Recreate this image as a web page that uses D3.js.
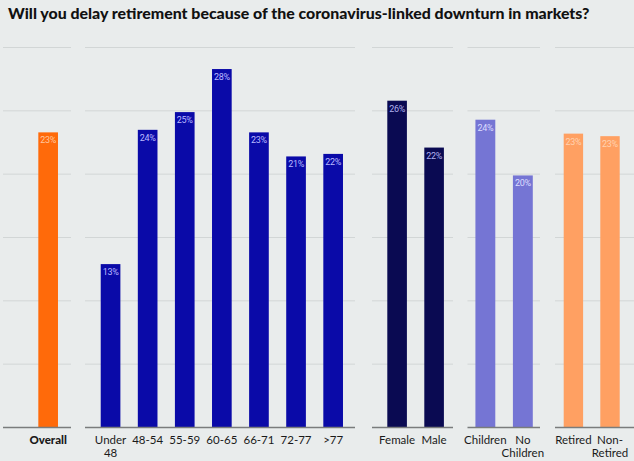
<!DOCTYPE html>
<html>
<head>
<meta charset="utf-8">
<script src="https://cdn.jsdelivr.net/npm/d3@7"></script>
<style>
  html, body { margin: 0; padding: 0; background: #e9ecec; }
  svg { display: block; }
</style>
</head>
<body>
<svg id="chart" width="634" height="461"></svg>
<script>
// ---- data ----
const titleText = "Will you delay retirement because of the coronavirus-linked downturn in markets?";
const overallCats = ["Overall"];
const overallVals = [23.3];
const ageCats = ["Under\n48", "48-54", "55-59", "60-65", "66-71", "72-77", ">77"];
const ageVals = [12.9, 23.5, 24.9, 28.3, 23.3, 21.4, 21.6];
const genderCats = ["Female", "Male"];
const genderVals = [25.8, 22.1];
const childCats = ["Children", "No\nChildren"];
const childVals = [24.3, 19.9];
const retCats = ["Retired", "Non-\nRetired"];
const retVals = [23.2, 23.0];
const yTicks = [0, 5, 10, 15, 20, 25, 30];

// ---- layout ----
const W = 634, H = 461;
const baseY = 427.5, topY = 47.5;
const groups = [
  { cats: overallCats, vals: overallVals, color: "#ff6a0a", labelColor: "#ffc79f", bold: true,
    band: [29.6, 66.7], seg: [3, 71] },
  { cats: ageCats, vals: ageVals, color: "#0a0aa8", labelColor: "#b9b9ff",
    band: [92, 351.7], seg: [85, 355] },
  { cats: genderCats, vals: genderVals, color: "#0a0a52", labelColor: "#b0b0ee",
    band: [378.6, 452.6], seg: [372, 453] },
  { cats: childCats, vals: childVals, color: "#7575d4", labelColor: "#dcdcff",
    band: [466.6, 541.6], seg: [467.5, 540] },
  { cats: retCats, vals: retVals, color: "#ffa062", labelColor: "#ffd2b0",
    band: [555.1, 628.3], seg: [555, 634] }
];

const svg = d3.select("#chart");
svg.append("rect").attr("width", W).attr("height", H).attr("fill", "#e9ecec");

svg.append("text")
  .attr("x", 8).attr("y", 18.5)
  .attr("font-family", "Lato, sans-serif")
  .attr("font-weight", 900)
  .attr("font-size", 15.9)
  .attr("fill", "#111")
  .text(titleText);

const y = d3.scaleLinear().domain([0, 30]).range([baseY, topY]);

groups.forEach(g => {
  const x = d3.scaleBand().domain(g.cats).range(g.band).paddingInner(0.47).paddingOuter(0.235);
  const gg = svg.append("g");

  // gridlines
  gg.selectAll("line.grid").data(yTicks.filter(t => t > 0)).join("line")
    .attr("class", "grid")
    .attr("x1", g.seg[0]).attr("x2", g.seg[1])
    .attr("y1", d => y(d)).attr("y2", d => y(d))
    .attr("stroke", "#d2d6d6").attr("stroke-width", 1);

  // bars
  const data = g.cats.map((c, i) => ({ c, v: g.vals[i] }));
  gg.selectAll("rect.bar").data(data).join("rect")
    .attr("class", "bar")
    .attr("x", d => x(d.c)).attr("width", x.bandwidth())
    .attr("y", d => y(d.v)).attr("height", d => y(0) - y(d.v))
    .attr("fill", g.color);

  // baseline
  gg.append("line")
    .attr("x1", g.seg[0]).attr("x2", g.seg[1])
    .attr("y1", y(0)).attr("y2", y(0))
    .attr("stroke", "#7a7c7c").attr("stroke-width", 1.6);

  // value labels
  gg.selectAll("text.val").data(data).join("text")
    .attr("class", "val")
    .attr("x", d => x(d.c) + x.bandwidth() / 2)
    .attr("y", d => y(d.v) + 11)
    .attr("text-anchor", "middle")
    .attr("font-family", "Roboto, sans-serif")
    .attr("font-size", 9)
    .attr("letter-spacing", -0.3)
    .attr("fill", g.labelColor)
    .text(d => Math.round(d.v) + "%");

  // category labels
  const lab = gg.selectAll("text.cat").data(data).join("text")
    .attr("class", "cat")
    .attr("text-anchor", "middle")
    .attr("font-family", "Lato, sans-serif")
    .attr("font-size", 11.5)
    .attr("font-weight", g.bold ? 900 : 400)
    .attr("fill", "#1a1a1a");
  lab.each(function(d) {
    const lines = d.c.split("\n");
    const t = d3.select(this);
    lines.forEach((ln, i) => {
      t.append("tspan")
        .attr("x", x(d.c) + x.bandwidth() / 2)
        .attr("y", 444 + i * 12.5)
        .text(ln);
    });
  });
});
</script>
</body>
</html>
